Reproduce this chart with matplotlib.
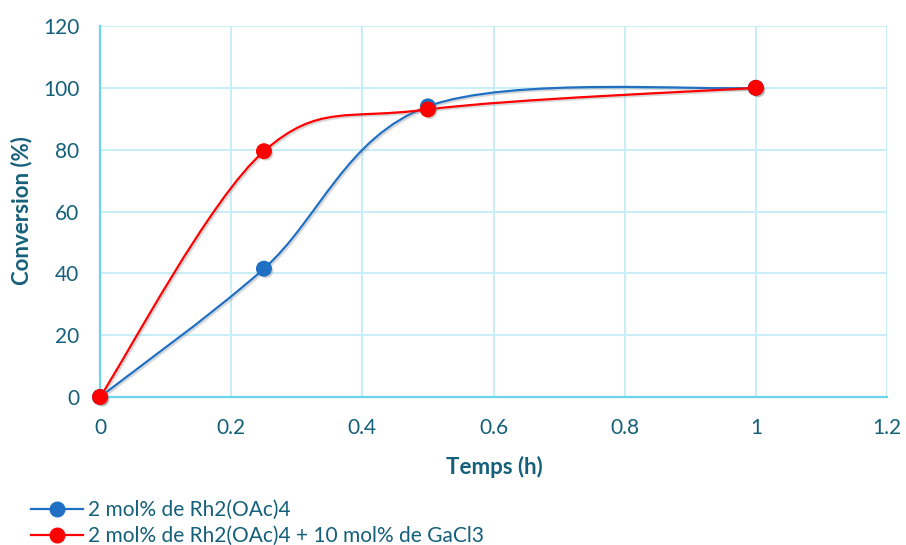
import numpy as np
import matplotlib
matplotlib.use("Agg")
import matplotlib.pyplot as plt
from matplotlib.path import Path
from matplotlib.patches import PathPatch
from matplotlib.lines import Line2D
import matplotlib.patheffects as pe

plt.rcParams['font.family'] = ['Lato', 'DejaVu Sans']

time_h = [0, 0.25, 0.5, 1]
conv_rh = [0, 41.5, 94, 100]
conv_rh_ga = [0, 79.5, 93, 100]
labels = ["2 mol% de Rh2(OAc)4", "2 mol% de Rh2(OAc)4 + 10 mol% de GaCl3"]
colors = ["#1F6FC3", "#FF0000"]
xticks = [0, 0.2, 0.4, 0.6, 0.8, 1, 1.2]
yticks = [0, 20, 40, 60, 80, 100, 120]
text_color = "#14607A"

def excel_smooth(x, y):
    P = np.column_stack([x, y]).astype(float)
    n = len(P)
    verts = [P[0]]
    codes = [Path.MOVETO]
    for i in range(n - 1):
        p0 = P[i - 1] if i > 0 else P[i]
        p1 = P[i]
        p2 = P[i + 1]
        p3 = P[i + 2] if i + 2 < n else P[i + 1]
        c1 = p1 + (p2 - p0) / 6.0
        c2 = p2 - (p3 - p1) / 6.0
        verts += [c1, c2, p2]
        codes += [Path.CURVE4] * 3
    return Path(verts, codes)

fig = plt.figure(figsize=(9.06, 5.45), dpi=100)
ax = fig.add_axes([100/906, 1 - 397/545, (887 - 100)/906, (397 - 26)/545])

shadow = [pe.SimplePatchShadow(offset=(1.5, -1.5), shadow_rgbFace='gray', alpha=0.35), pe.Normal()]

handles = []
for ys, c, lab in zip([conv_rh, conv_rh_ga], colors, labels):
    patch = PathPatch(excel_smooth(time_h, ys), facecolor='none', edgecolor=c, lw=1.6, zorder=3)
    patch.set_path_effects([pe.SimpleLineShadow(offset=(1.2, -1.2), shadow_color='gray', alpha=0.3), pe.Normal()])
    ax.add_patch(patch)
    ax.plot(time_h, ys, linestyle='none', marker='o', markersize=10.5, color=c, zorder=4,
            path_effects=shadow, clip_on=False)
    handles.append(Line2D([], [], color=c, lw=1.6, marker='o', markersize=10.5))

ax.set_xlim(0, 1.2)
ax.set_ylim(0, 120)
ax.set_xticks(xticks)
ax.set_xticklabels([f"{v:g}" for v in xticks])
ax.set_yticks(yticks)
ax.grid(True, color="#C8EEF8", lw=1.4)
ax.set_axisbelow(True)
for s in ['top', 'right']:
    ax.spines[s].set_visible(False)
for s in ['left', 'bottom']:
    ax.spines[s].set_color("#6CD4EE")
    ax.spines[s].set_linewidth(1.6)
ax.tick_params(length=0, labelsize=15, labelcolor=text_color)
ax.tick_params(axis='x', pad=15)
ax.tick_params(axis='y', pad=15)

fig.text(494/906, 1 - 467/545, "Temps (h)", fontsize=16, fontweight='bold', color=text_color,
         ha='center', va='center')
fig.text(22/906, 1 - 211/545, "Conversion (%)", fontsize=16, fontweight='bold', color=text_color,
         ha='center', va='center', rotation=90)

fig.legend(handles, labels, loc='upper left', bbox_to_anchor=(31/906, 1 - 500/545),
           frameon=False, fontsize=15, labelcolor=text_color, handlelength=2.5,
           handletextpad=0.25, labelspacing=0.3, borderaxespad=0, borderpad=0)

fig.savefig("out.png", dpi=100)
